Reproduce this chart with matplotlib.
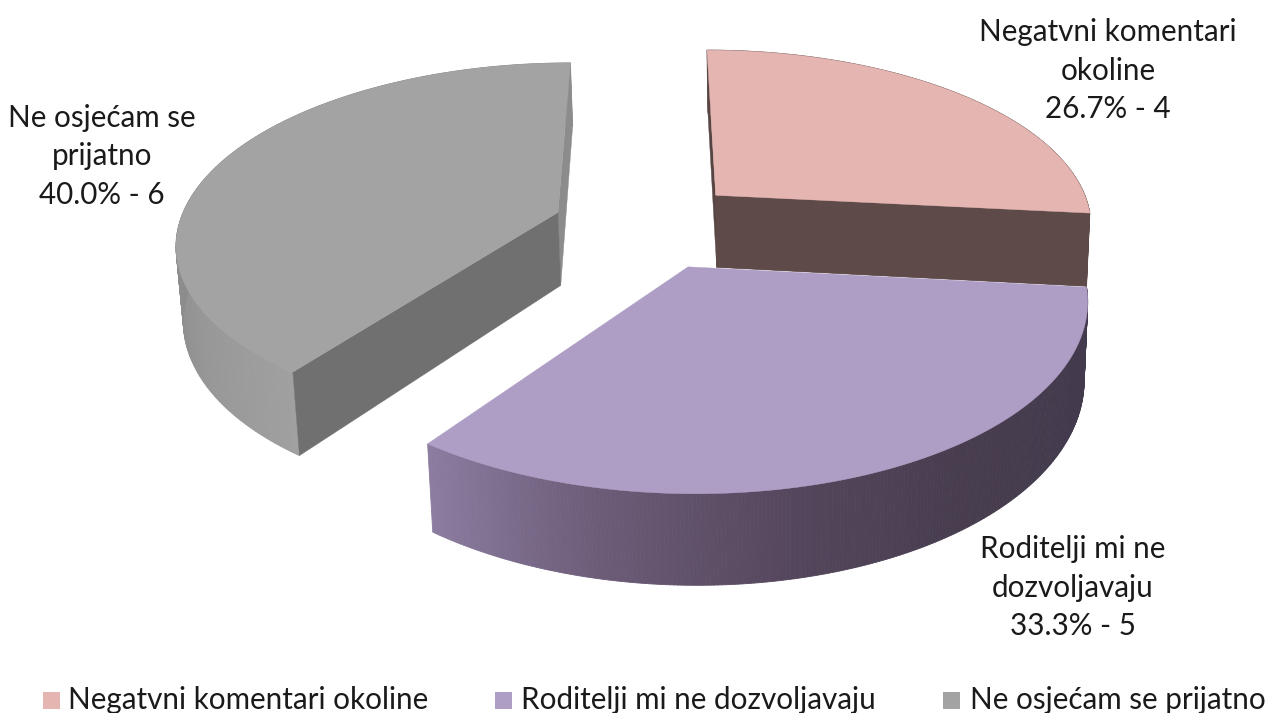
import numpy as np
import matplotlib
matplotlib.use("Agg")
import matplotlib.pyplot as plt
from matplotlib.collections import PolyCollection
from matplotlib.colors import to_rgb

# ---- data ----
categories = ["Negatvni komentari okoline", "Roditelji mi ne dozvoljavaju", "Ne osjećam se prijatno"]
values = [4, 5, 6]
label_lines = [["Negatvni komentari", "okoline"], ["Roditelji mi ne", "dozvoljavaju"], ["Ne osjećam se", "prijatno"]]

# ---- style / layout ----
top_colors = ["#e4b5b1", "#ae9dc4", "#a3a3a3"]
start_face = ["#574543", "#463c4e", "#707070"]
end_face = ["#5e4a48", "#463c4e", "#8c8c8c"]
side_stops = [["#5e4a48", "#5e4a48"],
              ["#433b4d", "#433b4d", "#473d4f", "#54465c", "#6c5c78", "#8c7ca0"],
              ["#a0a0a0", "#8c8c8c", "#8c8c8c", "#8c8c8c"]]
explode_x = [60.0, 32.6, -82.7]
explode_g = [913.0, 857.0, 899.0]
label_xy = [(1108, 32), (1073, 549), (102, 118)]
legend_sq = [43, 495, 943]
legend_tx = [68, 521, 970]
R_x, R_g, DEPTH = 337.0, 139.5, 65.7
FONT = "Lato"
FS = 21.3

def project(xw, g, down=False):
    s = 1000.0 / g
    X = 650 + xw * s
    Y = -900 + 1000 * s
    if down:
        dy = DEPTH * s
        X = X + (800 - X) * dy / 6400
        Y = Y + dy
    return X, Y

def stops_at(stops, t):
    cols = np.array([to_rgb(c) for c in stops])
    pos = np.linspace(0, 1, len(stops))
    return [float(np.interp(t, pos, cols[:, k])) for k in range(3)]

fig = plt.figure(figsize=(12.69, 7.13), dpi=100)
ax = fig.add_axes([0, 0, 1, 1])
ax.set_xlim(0, 1269)
ax.set_ylim(713, 0)
ax.axis("off")

total = sum(values)
edges = np.cumsum([0] + values) / total * 360.0
draw_order = [2, 0, 1]
z = 1
for i in draw_order:
    a0, a1 = np.radians(edges[i]), np.radians(edges[i + 1])
    th = np.linspace(a0, a1, 240)
    xw = explode_x[i] + R_x * np.sin(th)
    g = explode_g[i] + R_g * np.cos(th)
    Xt, Yt = project(xw, g)
    Xb, Yb = project(xw, g, True)
    Ax, Ay = project(explode_x[i], explode_g[i])
    Bx, By = project(explode_x[i], explode_g[i], True)

    quads, cols = [], []
    for k in range(len(th) - 1):
        quads.append([(Xt[k], Yt[k]), (Xt[k + 1], Yt[k + 1]), (Xb[k + 1], Yb[k + 1]), (Xb[k], Yb[k])])
        cols.append(stops_at(side_stops[i], k / (len(th) - 2)))
    ax.add_collection(PolyCollection(quads, facecolors=cols, edgecolors=cols, linewidths=0.6, zorder=z))
    z += 1
    if i != 1:
        ax.fill([Ax, Xt[-1], Xb[-1], Bx], [Ay, Yt[-1], Yb[-1], By], color=end_face[i], lw=0.3, zorder=z)
        z += 1
        ax.fill([Ax, Xt[0], Xb[0], Bx], [Ay, Yt[0], Yb[0], By], color=start_face[i], lw=0.3, zorder=z)
        z += 1
    if i == 0:
        ax.fill([Ax, Xt[-1], Xb[-1], Bx], [Ay, Yt[-1], Yb[-1], By], color=end_face[i], lw=0.3, zorder=z)
        z += 1
    ax.fill(np.r_[Ax, Xt], np.r_[Ay, Yt], color=top_colors[i], lw=0.3, zorder=z)
    z += 1

for i, (lx, ly) in enumerate(label_xy):
    lines = label_lines[i] + [f"{values[i] / total * 100:.1f}% - {values[i]}"]
    for j, line in enumerate(lines):
        ax.text(lx, ly + j * 38.5, line, ha="center", va="center", fontsize=FS, family=FONT, color="#1a1a1a", zorder=50)

for i, cat in enumerate(categories):
    ax.add_patch(plt.Rectangle((legend_sq[i], 692), 17, 17, color=top_colors[i], lw=0, zorder=50))
    ax.text(legend_tx[i], 700, cat, ha="left", va="center", fontsize=FS, family=FONT, color="#1a1a1a", zorder=50)

fig.savefig("out.png", dpi=100, facecolor="white")
